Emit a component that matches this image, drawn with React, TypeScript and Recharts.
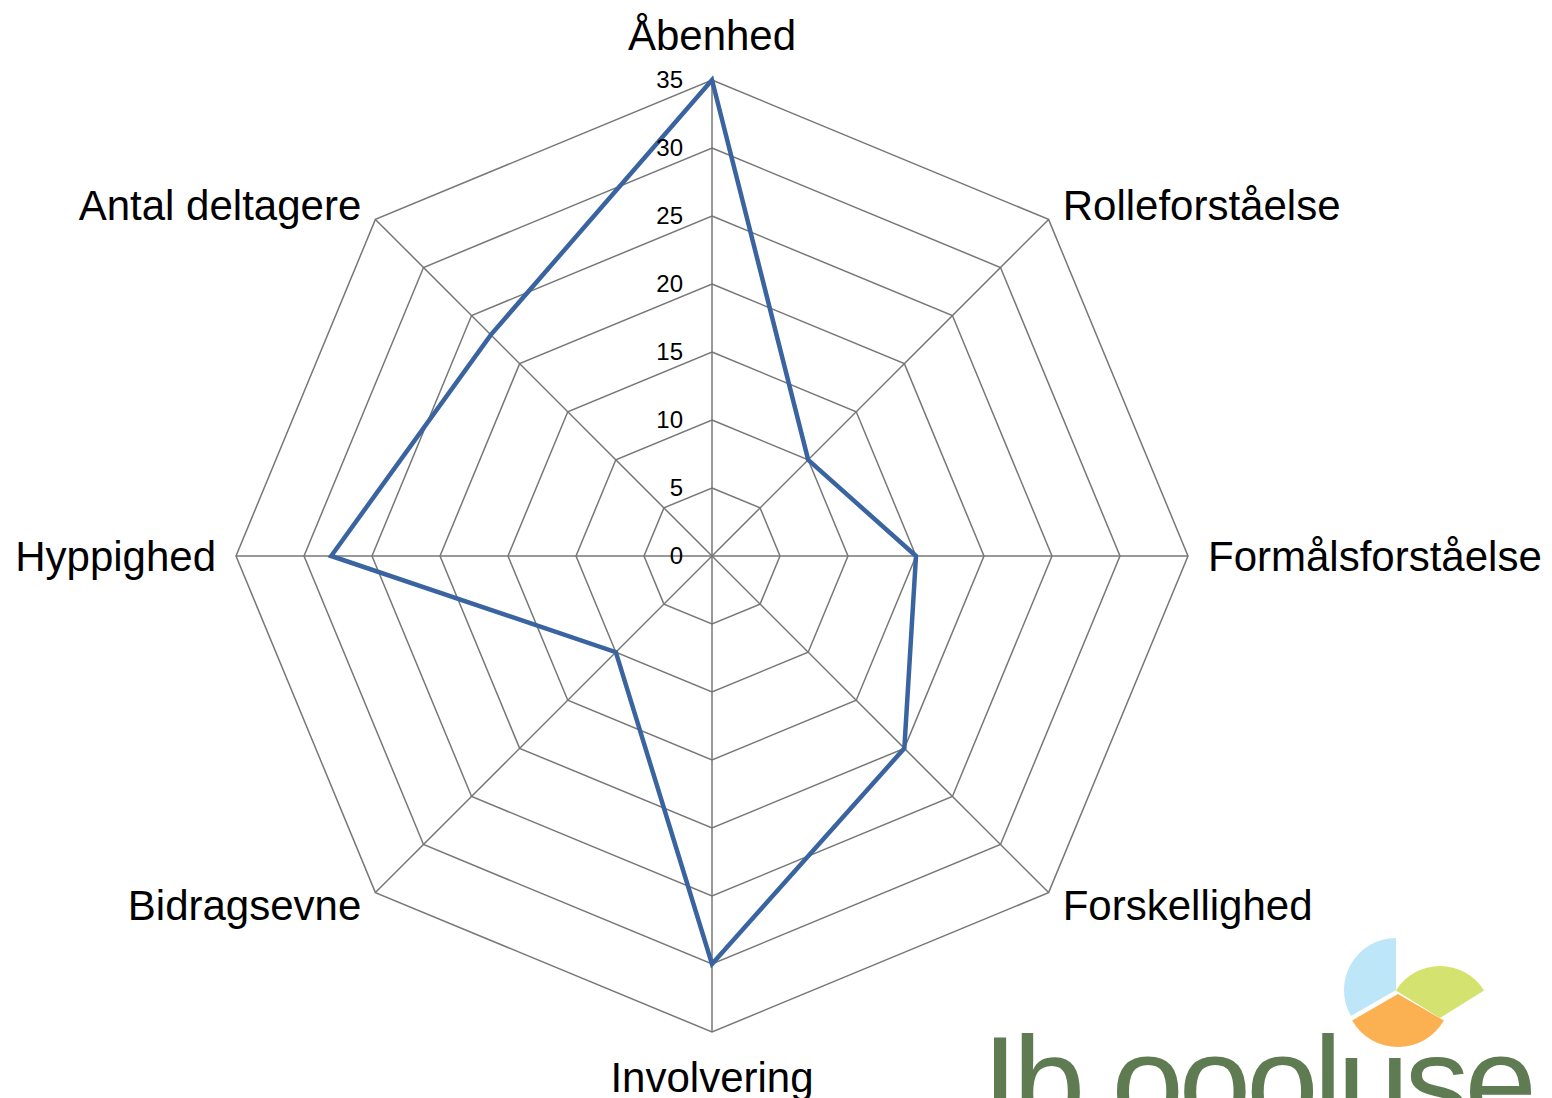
import { RadarChart, Radar, PolarGrid, PolarAngleAxis, PolarRadiusAxis } from 'recharts';

const categories = [
  'Åbenhed',
  'Rolleforståelse',
  'Formålsforståelse',
  'Forskellighed',
  'Involvering',
  'Bidragsevne',
  'Hyppighed',
  'Antal deltagere',
];
const values = [35, 10, 15, 20, 30, 10, 28, 23];
const radiusTicks = [0, 5, 10, 15, 20, 25, 30, 35];

const data = categories.map((name, i) => ({ name, value: values[i] }));

const CX = 712;
const CY = 556;
const R = 476;
const FONT = 'Arial, "Liberation Sans", sans-serif';

function AngleTick(props: any) {
  const { x, y, payload } = props;
  const dx = x - CX;
  const dy = y - CY;
  const len = Math.sqrt(dx * dx + dy * dy) || 1;
  const ux = dx / len;
  const uy = dy / len;
  let anchor = 'middle';
  let tx = CX;
  let ty = CY;
  if (Math.abs(ux) < 0.01) {
    tx = CX;
    ty = CY + uy * (R + 45);
  } else {
    anchor = ux > 0 ? 'start' : 'end';
    tx = CX + ux * (R + 20);
    ty = CY + uy * (R + 20) + (uy > 0.1 ? -2 : 0);
  }
  return (
    <text x={tx} y={ty + 15} textAnchor={anchor} fontSize={42} fontFamily={FONT} fill="#000">
      {payload.value}
    </text>
  );
}

function RadiusTick(props: any) {
  const { x, y, payload } = props;
  return (
    <text x={x - 29} y={y + 8} textAnchor="end" fontSize={24} fontFamily={FONT} fill="#000">
      {payload.value}
    </text>
  );
}

function wedge(cx: number, cy: number, r: number, a1: number, a2: number) {
  const p = (a: number) => [cx + r * Math.cos((a * Math.PI) / 180), cy - r * Math.sin((a * Math.PI) / 180)];
  const [x1, y1] = p(a1);
  const [x2, y2] = p(a2);
  return `M${cx},${cy} L${x1},${y1} A${r},${r} 0 0 0 ${x2},${y2} Z`;
}

function Logo() {
  return (
    <svg width={1552} height={1098} style={{ position: 'absolute', left: 0, top: 0, pointerEvents: 'none' }}>
      <path d={wedge(1396, 990, 52, 90, 210)} fill="#bde6f9" />
      <path d={wedge(1398, 994, 53, 210, 330)} fill="#fbb152" />
      <path d={wedge(1440, 1018, 52, 32, 148)} fill="#d4e26f" />
      <text x={982} y={1127} fontSize={130} fontFamily={FONT} fill="#5f7b51" letterSpacing={-5}>
        Ib oooluse
      </text>
    </svg>
  );
}

export default function App() {
  return (
    <div style={{ position: 'absolute', left: 0, top: 0, width: 1552, height: 1098, background: '#fff', overflow: 'hidden' }}>
      <RadarChart
        width={1552}
        height={1098}
        data={data}
        cx={CX}
        cy={CY}
        outerRadius={R}
        margin={{ top: 0, right: 0, bottom: 0, left: 0 }}
      >
        <PolarGrid gridType="polygon" stroke="#777" strokeWidth={1.5} />
        <PolarAngleAxis dataKey="name" tick={<AngleTick />} tickLine={false} axisLine={false} />
        <PolarRadiusAxis
          angle={90}
          type="number"
          domain={[0, 35]}
          ticks={radiusTicks}
          tickCount={8}
          axisLine={false}
          tickLine={false}
          tick={<RadiusTick />}
        />
        <Radar
          dataKey="value"
          stroke="#3a64a0"
          strokeWidth={4.5}
          fill="none"
          fillOpacity={0}
          dot={false}
          isAnimationActive={false}
        />
      </RadarChart>
      <Logo />
    </div>
  );
}
